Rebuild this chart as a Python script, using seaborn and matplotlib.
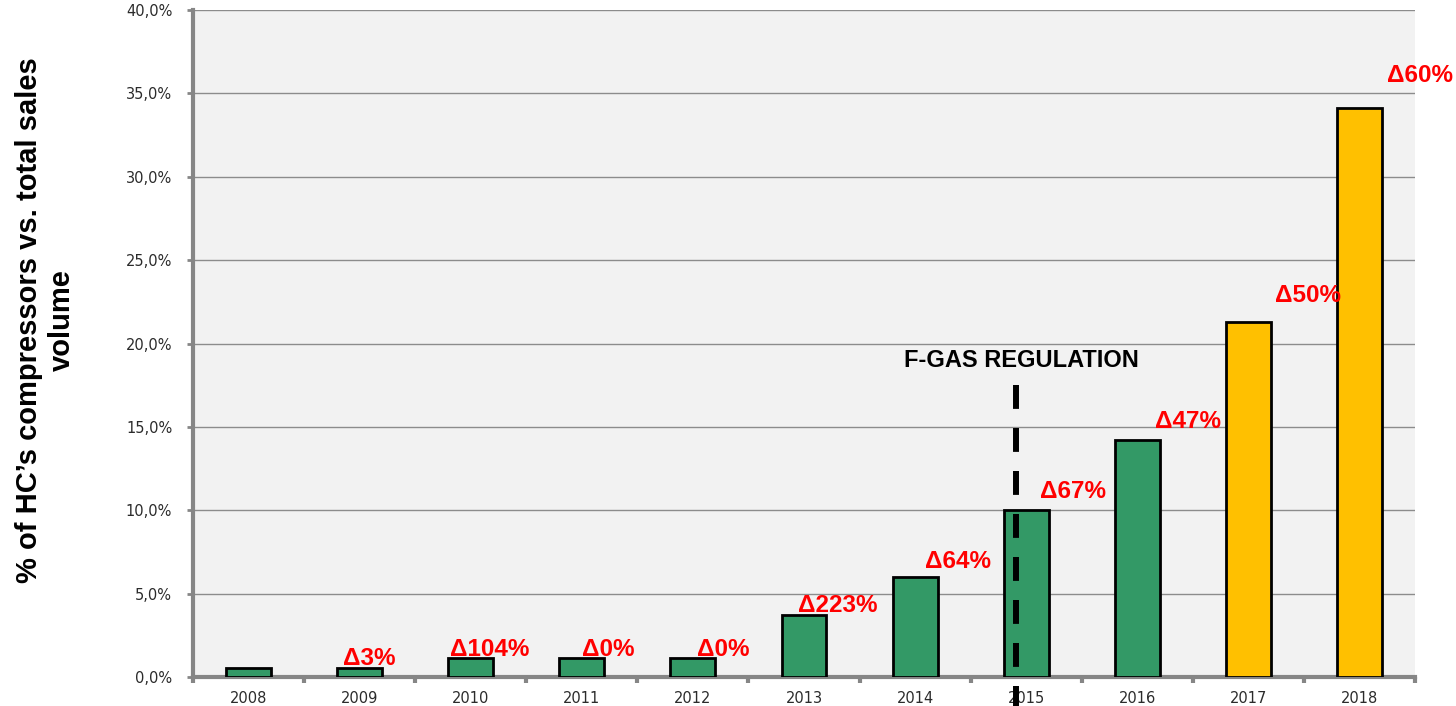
import pandas as pd
import matplotlib
matplotlib.use("Agg")
import matplotlib.pyplot as plt
import seaborn as sns

# share of HC compressors in total sales volume, in %
years = ["2008", "2009", "2010", "2011", "2012", "2013",
         "2014", "2015", "2016", "2017", "2018"]
share = [0.54, 0.55, 1.14, 1.14, 1.14, 3.72, 6.0, 10.0, 14.2, 21.3, 34.1]
kind = ["actual"] * 9 + ["forecast"] * 2
growth = ["", "Δ3%", "Δ104%", "Δ0%", "Δ0%", "Δ223%",
          "Δ64%", "Δ67%", "Δ47%", "Δ50%", "Δ60%"]
tick_values = [0, 5, 10, 15, 20, 25, 30, 35, 40]
regulation_year = "2015"
regulation_text = "F-GAS REGULATION"

df = pd.DataFrame({"year": years, "share": share, "kind": kind})

sns.set_theme(style="white")
plt.rcParams["font.family"] = ["Liberation Sans", "DejaVu Sans"]

fig = plt.figure(figsize=(14.56, 7.06), dpi=100)
ax = fig.add_axes([0.1326, 0.0411, 0.8392, 0.9447])
ax.set_facecolor("#f2f2f2")

sns.barplot(data=df, x="year", y="share", hue="kind",
            palette={"actual": "#339966", "forecast": "#ffc000"},
            saturation=1, dodge=False, width=0.405, edgecolor="black",
            linewidth=2, legend=False, ax=ax, zorder=3)

ax.set_xlim(-0.5, len(years) - 0.5)
ax.set_ylim(0, 40)
ax.set_yticks(tick_values)
ax.set_yticklabels([f"{v:.1f}%".replace(".", ",") for v in tick_values],
                   family="DejaVu Sans", fontsize=10.5, color="#2b2b2b")
ax.set_xticks(range(len(years)))
ax.set_xticklabels(years, family="DejaVu Sans", fontsize=10.5,
                   color="#2b2b2b")
ax.set_xticks([i - 0.5 for i in range(len(years) + 1)], minor=True)
ax.tick_params(axis="x", which="major", length=0, pad=10)
ax.tick_params(axis="x", which="minor", length=4, width=3, color="#868686",
               direction="out", bottom=True)
ax.tick_params(axis="y", length=4, width=2, color="#868686", direction="out",
               left=True, pad=11)

ax.grid(axis="y", color="#8c8c8c", linewidth=1, zorder=0)
ax.set_axisbelow(True)
for side in ["top", "right"]:
    ax.spines[side].set_visible(False)
for side in ["left", "bottom"]:
    ax.spines[side].set_color("#868686")
    ax.spines[side].set_linewidth(3)

ax.set_xlabel("")
ax.set_ylabel("% of HC’s compressors vs. total sales\nvolume",
              fontsize=21, fontweight="bold", color="black",
              multialignment="center")
ax.yaxis.set_label_coords(-0.096, 0.535)

# growth labels, drifting to the upper right of each bar
dx = [0, -12, -15, 0, 3, -4, 7, 10, 13, 19, 20]
dy = [0, 2, 1.5, 1.5, 1.5, 2, 6.5, 8.5, 8.5, 14, 19]
for i, (val, lab) in enumerate(zip(share, growth)):
    if lab:
        ax.annotate(lab, (i, val), xytext=(dx[i], dy[i]),
                    textcoords="offset points", ha="left", va="baseline",
                    color="#ff0000", fontsize=17.5, fontweight="bold",
                    zorder=5)

# regulation marker
reg = years.index(regulation_year)
marker, = ax.plot([reg - 0.09, reg - 0.09], [17.5, -1.8], color="black",
                  linewidth=4.3, clip_on=False, zorder=6)
marker.set_dashes((4.0, 3.2))
ax.text(reg - 0.04, 19.0, regulation_text, ha="center", va="center",
        fontsize=17, fontweight="bold", color="black", zorder=6)

fig.savefig("out.png", dpi=100)
